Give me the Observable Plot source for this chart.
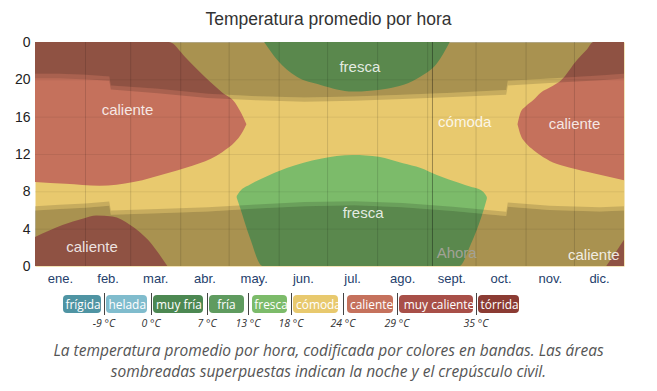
<!DOCTYPE html>
<html>
<head>
<meta charset="utf-8">
<script src="https://cdn.jsdelivr.net/npm/d3@7"></script>
<script src="https://cdn.jsdelivr.net/npm/@observablehq/plot@0.6"></script>
<style>
  body { margin: 0; background: #fff; }
  #wrap { position: relative; width: 657px; height: 391px; overflow: hidden; }
  #title { height: 34px; padding-top: 9px; box-sizing: border-box; line-height: 26px; text-align: center;
           font: 17.5px "Liberation Sans", Arial, sans-serif; color: #333; }
  #chart svg { display: block; }
  .pill { position: absolute; top: 295px; height: 18px; line-height: 18px; border-radius: 4px; color: #fff;
          font: 13.5px "Open Sans", sans-serif; text-align: center; white-space: nowrap; }
  .pill span { display: inline-block; transform: scaleX(0.88); }
  .sep { position: absolute; top: 293px; height: 22px; width: 1px; background: #444; }
  .thr { position: absolute; top: 316px; width: 40px; margin-left: -20px; text-align: center;
         font: italic 10.5px "Open Sans", sans-serif; color: #333; }
  #caption { position: absolute; top: 340px; left: 0; width: 657px; text-align: center;
             font: italic 15.5px "Open Sans", sans-serif; color: #555; line-height: 21px; }
</style>
</head>
<body>
<div id="wrap">
  <div id="title">Temperatura promedio por hora</div>
  <div id="chart"></div>
  <div id="legend"></div>
  <div id="caption">La temperatura promedio por hora, codificada por colores en bandas. Las áreas<br>sombreadas superpuestas indican la noche y el crepúsculo civil.</div>
</div>
<script>
// ---------------- data (x = day of year, y = hour of day) ----------------
const monthLabels = ["ene.","feb.","mar.","abr.","may.","jun.","jul.","ago.","sept.","oct.","nov.","dic."];
const monthStarts = [0, 31, 59, 90, 120, 151, 181, 212, 243, 273, 304, 334, 365];
const hourTicks = [24, 20, 16, 12, 8, 4, 0];
const nowDay = 246;

// caliente, tarde (ene–may)
const calTardeD  = [0, 19, 40, 61, 83, 93, 102, 116, 124, 128, 131];
const calTardeLo = [9.0, 8.8, 8.6, 9.0, 10.0, 10.5, 11.0, 12.2, 13.3, 14.2, 15.2];
const calTardeHi = [24, 24, 24, 24, 24, 22.4, 20.8, 18.6, 17.5, 16.3, 15.2];
// caliente, madrugada (ene–mar)
const calMadD  = [0, 17, 30, 38, 48, 59, 70, 76, 82];
const calMadHi = [3.1, 4.4, 5.1, 5.4, 5.3, 4.4, 2.8, 1.5, 0];
// caliente, tarde (oct–dic)
const calTarde2D  = [299, 301, 304, 309, 313, 321, 326, 336, 342, 346, 365];
const calTarde2Lo = [15.2, 14.0, 13.2, 12.4, 11.9, 11.1, 10.8, 10.35, 10.1, 9.95, 9.2];
const calTarde2Hi = [15.2, 16.5, 17.1, 17.8, 18.5, 19.3, 19.9, 22.1, 23.2, 24, 24];
// caliente, madrugada (dic)
const calMad2D  = [354, 360, 365];
const calMad2Hi = [0, 1.5, 2.8];
// fresca, noche (may–sept)
const frescaNocheD  = [142, 150, 162, 177, 197, 218, 239, 249, 257];
const frescaNocheLo = [24, 22.1, 20.3, 19.4, 18.7, 19.0, 20.3, 21.7, 24];
// fresca, mañana (may–oct)
const frescaMananaD  = [125, 127, 133, 141, 156, 177, 197, 213, 228, 239, 249, 263, 270, 272, 278, 280];
const frescaMananaLo = [7.3, 6.3, 3.1, 0, 0, 0, 0, 0, 0, 0, 0, 0, 2.3, 3.1, 6.0, 7.2];
const frescaMananaHi = [7.5, 8.0, 8.7, 9.4, 10.5, 11.5, 11.9, 11.7, 11.0, 10.5, 9.75, 8.9, 8.5, 8.4, 7.9, 7.4];

// sol: crepúsculo, amanecer, atardecer (horas)
const sunD    = [0, 15, 31, 46, 47, 76, 107, 137, 167, 198, 228, 259, 292, 293, 319, 350, 365];
const dawn    = [5.95, 6.1, 6.25, 6.45, 5.5, 5.65, 5.85, 6.15, 6.4, 6.5, 6.3, 5.9, 5.35, 6.35, 6.0, 5.85, 5.95];
const sunrise = [6.4, 6.55, 6.7, 6.9, 5.95, 6.1, 6.3, 6.6, 6.85, 6.95, 6.75, 6.35, 5.8, 6.8, 6.45, 6.3, 6.4];
const sunset  = [20.1, 20.1, 20.0, 19.85, 18.9, 18.5, 18.0, 17.75, 17.6, 17.7, 17.9, 18.1, 18.35, 19.35, 19.6, 19.9, 20.1];
const dusk    = [20.6, 20.6, 20.5, 20.3, 19.35, 19.0, 18.45, 18.2, 18.05, 18.15, 18.35, 18.55, 18.85, 19.85, 20.1, 20.4, 20.6];

// etiquetas de bandas en el gráfico
const regionLabelText = ["caliente", "caliente", "fresca", "fresca", "cómoda", "caliente", "caliente"];
const regionLabelDay  = [57, 35, 201, 203, 266, 334, 346];
const regionLabelHour = [16.7, 2.1, 21.4, 5.7, 15.5, 15.2, 1.2];

// bandas (leyenda)
const bandNames  = ["frígida","helada","muy fría","fría","fresca","cómoda","caliente","muy caliente","tórrida"];
const bandColors = ["#4f94a3","#80bccd","#4c8852","#5f9b5f","#7cbb6a","#e8c96e","#c5715c","#a84f48","#8b3b33"];
const thresholdLabels = ["-9 °C","0 °C","7 °C","13 °C","18 °C","24 °C","29 °C","35 °C"];

// -------------- build --------------
const C = Object.fromEntries(bandNames.map((n, i) => [n, bandColors[i]]));
const rows = (d, lo, hi) => d.map((x, i) => ({d: x, lo: lo ? lo[i] : 0, hi: hi ? hi[i] : 24}));
const band = (data, fill) => Plot.areaY(data, {x: "d", y1: "lo", y2: "hi", fill, curve: "monotone-x", clip: true});

const sun = sunD.map((d, i) => ({d, dawn: dawn[i], sunrise: sunrise[i], sunset: sunset[i], dusk: dusk[i]}));
const gridDays = monthStarts.slice(1, -1);
const gridHours = hourTicks.filter(h => h > 0 && h < 24);
const monthCenters = monthLabels.map((_, i) => (monthStarts[i] + monthStarts[i + 1]) / 2);
const labels = regionLabelText.map((t, i) => ({t, d: regionLabelDay[i], h: regionLabelHour[i]}));

const chart = Plot.plot({
  width: 657, height: 256,
  marginTop: 8, marginBottom: 24, marginLeft: 35, marginRight: 33,
  x: {domain: [0, 365]},
  y: {domain: [0, 24]},
  style: {fontFamily: "'Liberation Sans', Arial, sans-serif", background: "transparent", overflow: "visible"},
  marks: [
    Plot.frame({fill: C["cómoda"], stroke: null}),
    band(rows(calTardeD, calTardeLo, calTardeHi), C["caliente"]),
    band(rows(calMadD, null, calMadHi), C["caliente"]),
    band(rows(calTarde2D, calTarde2Lo, calTarde2Hi), C["caliente"]),
    band(rows(calMad2D, null, calMad2Hi), C["caliente"]),
    band(rows(frescaNocheD, frescaNocheLo, null), C["fresca"]),
    band(rows(frescaMananaD, frescaMananaLo, frescaMananaHi), C["fresca"]),
    // noche y crepúsculo civil
    Plot.areaY(sun, {x: "d", y1: 0, y2: "dawn", fill: "#000", fillOpacity: 0.27}),
    Plot.areaY(sun, {x: "d", y1: "dawn", y2: "sunrise", fill: "#000", fillOpacity: 0.14}),
    Plot.areaY(sun, {x: "d", y1: "sunset", y2: "dusk", fill: "#000", fillOpacity: 0.14}),
    Plot.areaY(sun, {x: "d", y1: "dusk", y2: 24, fill: "#000", fillOpacity: 0.27}),
    // rejilla
    Plot.ruleX(gridDays, {stroke: "#000", strokeOpacity: 0.13}),
    Plot.ruleY(gridHours, {stroke: "#000", strokeOpacity: 0.07}),
    Plot.ruleX([nowDay], {stroke: "#000", strokeOpacity: 0.35}),
    Plot.text(["Ahora"], {x: nowDay + 15, y: 1.4, text: d => d, fill: "#a2a296", fontSize: 15}),
    Plot.text(labels, {x: "d", y: "h", text: "t", fill: "#fff", fillOpacity: 0.85, fontSize: 15}),
    Plot.axisY(hourTicks, {tickFormat: d => String(d % 24), tickSize: 0, tickPadding: 5, fontSize: 14, fill: "#222", label: null}),
    Plot.axisX(monthCenters, {tickFormat: (d, i) => monthLabels[i], tickSize: 0, tickPadding: 7, fontSize: 13, fill: "#24406c", label: null})
  ]
});
document.getElementById("chart").appendChild(chart);

// leyenda
const legend = document.getElementById("legend");
const pillBoxes = [[63,38],[106,41],[153,50],[209,35],[252,35],[293,45],[347,46],[399,74],[478,41]];
bandNames.forEach((n, i) => {
  const d = document.createElement("div");
  d.className = "pill";
  d.style.left = pillBoxes[i][0] + "px";
  d.style.width = pillBoxes[i][1] + "px";
  d.style.background = bandColors[i];
  const s = document.createElement("span");
  s.textContent = n;
  d.appendChild(s);
  legend.appendChild(d);
});
const sepX = [104, 151, 207, 248, 291, 343, 397, 476];
thresholdLabels.forEach((t, i) => {
  const s = document.createElement("div");
  s.className = "sep"; s.style.left = sepX[i] + "px";
  legend.appendChild(s);
  const l = document.createElement("div");
  l.className = "thr"; l.style.left = sepX[i] + "px";
  l.textContent = t;
  legend.appendChild(l);
});
</script>
</body>
</html>
